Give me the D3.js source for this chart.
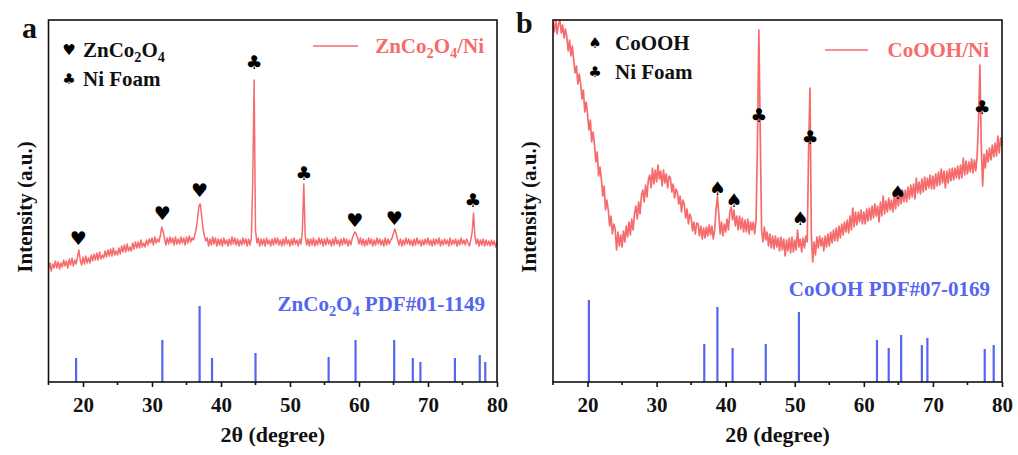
<!DOCTYPE html>
<html>
<head>
<meta charset="utf-8">
<script src="https://cdn.jsdelivr.net/npm/d3@7"></script>
<style>
  html, body { margin: 0; padding: 0; background: #fff; }
  svg { display: block; }
  text { font-family: "Liberation Serif", "Times New Roman", serif; font-weight: bold; }
  .sym { font-family: "DejaVu Sans", sans-serif; font-weight: normal; }
</style>
</head>
<body>
<svg id="chart" width="1018" height="455"></svg>
<script>
// ---- measured patterns, 2θ from 15° to 80° in 0.2° steps ----
const angleStart = 15, angleStep = 0.2;

// ZnCo2O4 on Ni foam
const zcoIntensity = [
  113,119,111,118,114, 121,114,120,113,119, 115,122,116,121,114, 123,117,124,116,122,
  118,125,132,122,117, 125,118,126,119,124, 119,127,121,128,122, 129,122,130,123,127,
  124,131,125,132,126, 133,126,134,127,131, 127,134,128,136,130, 137,130,138,131,135,
  131,139,133,140,134, 140,134,142,135,139, 135,142,137,143,139, 144,137,145,139,143,
  140,146,155,151,144, 137,144,138,145,139, 144,137,145,138,143, 138,145,139,144,137,
  145,139,146,140,144, 142,147,153,163,176, 178,166,153,146,141, 144,136,143,137,145,
  138,144,136,143,137, 143,136,144,138,142, 136,143,137,145,138, 144,137,143,136,142,
  137,144,138,143,136, 143,137,144,200,302, 152,139,144,136,143, 137,143,136,144,138,
  142,136,143,137,144, 138,144,137,142,136, 143,137,145,138,142, 136,143,137,144,138,
  142,136,143,138,152, 198,147,137,143,136, 143,137,144,136,142, 137,144,138,143,136,
  143,137,144,138,142, 136,143,137,145,138, 142,136,143,137,144, 138,143,136,142,137,
  143,147,150,148,144, 138,144,137,143,136, 142,137,144,138,143, 136,142,137,144,138,
  143,137,142,136,144, 137,143,138,142,144, 149,153,148,142,137, 143,136,142,137,144,
  138,143,137,142,136, 143,137,144,138,142, 136,142,137,143,138, 144,137,142,136,143,
  137,143,138,144,136, 142,137,143,138,142, 136,144,137,142,138, 143,136,142,137,144,
  138,142,137,143,139, 136,142,150,169,146, 138,143,136,142,137, 143,136,142,137,141,
  136,142,137,141,135, 140
];

// CoOOH on Ni foam
const coohIntensity = [
  360,350,362,348,358, 362,349,357,344,353, 345,331,342,326,336, 322,309,316,298,308,
  298,283,292,270,280, 268,252,262,240,250, 238,220,230,206,215, 203,186,196,172,182,
  172,156,166,148,158, 153,132,150,136,147, 135,151,140,156,145, 160,147,163,152,168,
  176,163,180,168,186, 192,180,197,185,202, 207,194,214,198,212, 200,217,203,211,196,
  212,199,208,194,206, 204,190,198,184,193, 190,178,186,170,182, 178,164,173,158,168,
  164,151,160,148,159, 158,146,156,143,154, 144,155,146,157,147, 156,143,152,172,186,
  168,148,160,146,158, 150,163,152,170,175, 162,172,156,166,152, 166,153,164,150,162,
  150,163,148,160,152, 160,148,162,240,352, 250,152,140,155,142, 150,136,148,134,146,
  133,146,135,144,131, 145,132,143,126,142, 131,144,129,145,130, 142,132,152,135,143,
  130,144,134,146,140, 230,294,148,120,140, 127,145,134,146,136, 144,131,146,135,148,
  136,150,139,152,141, 154,141,156,144,158, 147,160,150,162,149, 166,152,174,155,170,
  157,170,160,172,158, 170,158,173,161,174, 162,176,164,178,166, 176,160,180,166,186,
  168,181,170,184,172, 182,170,186,173,190, 176,190,178,192,180, 192,180,195,183,197,
  185,198,183,204,189, 200,188,203,190,205, 192,204,194,207,193, 206,193,208,196,210,
  197,213,199,211,194, 211,199,213,201,214, 202,214,204,216,203, 217,204,224,207,221,
  208,220,210,223,209, 222,211,226,262,317, 236,196,228,214,232, 220,234,222,237,225,
  239,226,246,229,244, 236
];

// standard reference lines
const zcoRefAngles    = [19.0, 31.5, 36.9, 38.7, 45.0, 55.6, 59.5, 65.1, 67.8, 68.9, 73.9, 77.5, 78.3];
const zcoRefIntensity = [24, 42, 76, 24, 29, 25, 42, 42, 24, 20, 24, 27, 20];
const coohRefAngles    = [20.2, 36.9, 38.8, 41.0, 45.8, 50.6, 61.9, 63.6, 65.4, 68.4, 69.2, 77.5, 78.8];
const coohRefIntensity = [82, 38, 75, 34, 38, 70, 42, 34, 47, 37, 44, 33, 37];

// phase markers (angle, level above the trace)
const zcoMarkAngles = [19.3, 31.5, 36.9, 59.4, 65.1];
const zcoMarkLevels = [144, 169, 192, 162, 164];
const niMarkAnglesA = [44.8, 52.0, 76.5];
const niMarkLevelsA = [320, 209, 182];
const coohMarkAngles = [38.8, 41.2, 50.8, 64.9];
const coohMarkLevels = [194, 182, 164, 190];
const niMarkAnglesB = [44.8, 52.2, 77.1];
const niMarkLevelsB = [267, 245, 275];

// axis ticks
const majorTicks = [20, 30, 40, 50, 60, 70, 80];
const minorTicks = [15, 25, 35, 45, 55, 65, 75];

const red = "#f66b6b";
const blue = "#5566ee";
const svg = d3.select("#chart");

function richText(g, x, y, parts, size, color, anchor) {
  const t = g.append("text").attr("x", x).attr("y", y)
    .attr("font-size", size).attr("fill", color)
    .attr("text-anchor", anchor || "start");
  let shifted = false;
  parts.forEach(p => {
    const ts = t.append("tspan").text(p.t);
    if (p.sub && !shifted) { ts.attr("dy", 5).attr("font-size", size * 0.68); shifted = true; }
    else if (p.sub) { ts.attr("font-size", size * 0.68); }
    else if (shifted) { ts.attr("dy", -5); shifted = false; }
  });
  return t;
}

function panel(cfg) {
  const x = d3.scaleLinear().domain([15, 80]).range([cfg.left, cfg.right]);
  const y = d3.scaleLinear().domain([0, 362]).range([382, 20]);
  const g = svg.append("g");

  const clipId = "clip-" + cfg.id;
  svg.append("clipPath").attr("id", clipId).append("rect")
    .attr("x", cfg.left).attr("y", 20).attr("width", cfg.right - cfg.left).attr("height", 362);

  // measured trace
  const pts = cfg.intensity.map((v, i) => [angleStart + i * angleStep, v]);
  g.append("path").datum(pts)
    .attr("clip-path", `url(#${clipId})`)
    .attr("fill", "none").attr("stroke", red).attr("stroke-width", cfg.traceWidth)
    .attr("stroke-linejoin", "round")
    .attr("d", d3.line().x(d => x(d[0])).y(d => y(d[1])));

  // reference sticks
  g.selectAll("line.ref").data(cfg.refAngles).enter().append("line")
    .attr("x1", d => x(d)).attr("x2", d => x(d))
    .attr("y1", y(0)).attr("y2", (d, i) => y(cfg.refIntensity[i]))
    .attr("stroke", blue).attr("stroke-width", 2.2);

  // frame
  g.append("rect").attr("x", cfg.left).attr("y", 20)
    .attr("width", cfg.right - cfg.left).attr("height", 362)
    .attr("fill", "none").attr("stroke", "#111").attr("stroke-width", 1.6);

  // bottom axis
  const ax = g.append("g").attr("transform", "translate(0,382)")
    .call(d3.axisBottom(x).tickValues(majorTicks).tickSize(5).tickPadding(10).tickFormat(d3.format("d")));
  ax.select(".domain").remove();
  ax.selectAll(".tick line").attr("stroke", "#111").attr("stroke-width", 1.6);
  ax.selectAll(".tick text").attr("font-size", 21).attr("fill", "#111")
    .attr("font-family", "Liberation Serif, serif").attr("font-weight", "bold");
  g.selectAll("line.minor").data(minorTicks).enter().append("line")
    .attr("x1", d => x(d)).attr("x2", d => x(d)).attr("y1", 382).attr("y2", 385)
    .attr("stroke", "#111").attr("stroke-width", 1.6);

  // axis titles
  g.append("text").attr("x", (cfg.left + cfg.right) / 2).attr("y", 442)
    .attr("text-anchor", "middle").attr("font-size", 22).attr("fill", "#111")
    .text("2θ (degree)");
  g.append("text")
    .attr("transform", `translate(${cfg.left - 17},207) rotate(-90)`)
    .attr("text-anchor", "middle").attr("font-size", 21).attr("fill", "#111")
    .text("Intensity (a.u.)");

  // panel letter
  g.append("text").attr("x", cfg.letterX).attr("y", cfg.letterY)
    .attr("font-size", 30).attr("fill", "#111").text(cfg.letter);

  // peak markers
  const marks = [];
  cfg.phaseAngles.forEach((a, i) => marks.push({ a, v: cfg.phaseLevels[i], s: cfg.phaseSym }));
  cfg.niAngles.forEach((a, i) => marks.push({ a, v: cfg.niLevels[i], s: "♣" }));
  g.selectAll("text.mk").data(marks).enter().append("text")
    .attr("class", "sym").attr("x", d => x(d.a)).attr("y", d => y(d.v))
    .attr("text-anchor", "middle").attr("dominant-baseline", "central")
    .attr("font-size", 19).attr("fill", "#000").text(d => d.s);

  // phase key
  g.append("text").attr("class", "sym").attr("x", cfg.keyX).attr("y", cfg.keyY1)
    .attr("text-anchor", "middle").attr("dominant-baseline", "central")
    .attr("font-size", 15).attr("fill", "#000").text(cfg.phaseSym);
  g.append("text").attr("class", "sym").attr("x", cfg.keyX).attr("y", cfg.keyY2)
    .attr("text-anchor", "middle").attr("dominant-baseline", "central")
    .attr("font-size", 15).attr("fill", "#000").text("♣");
  richText(g, cfg.keyTextX, cfg.keyY1 + 7, cfg.phaseName, 21, "#111");
  richText(g, cfg.keyTextX, cfg.keyY2 + 7, [{ t: "Ni Foam" }], 21, "#111");

  // series key
  g.append("line").attr("x1", cfg.lineX1).attr("x2", cfg.lineX2)
    .attr("y1", cfg.lineY).attr("y2", cfg.lineY).attr("stroke", red).attr("stroke-width", 1.6);
  richText(g, cfg.right - 13, cfg.lineY + 7, cfg.seriesName, 21, red, "end");

  // reference card label
  richText(g, cfg.right - 12, cfg.refLabelY, cfg.refName, 21, blue, "end");
}

panel({
  id: "a", left: 48.5, right: 497, letter: "a", letterX: 22, letterY: 38, traceWidth: 1.5,
  intensity: zcoIntensity, refAngles: zcoRefAngles, refIntensity: zcoRefIntensity,
  phaseAngles: zcoMarkAngles, phaseLevels: zcoMarkLevels, phaseSym: "♥",
  niAngles: niMarkAnglesA, niLevels: niMarkLevelsA,
  keyX: 69, keyTextX: 83, keyY1: 50, keyY2: 79,
  phaseName: [{ t: "ZnCo" }, { t: "2", sub: true }, { t: "O" }, { t: "4", sub: true }],
  lineX1: 313, lineX2: 358, lineY: 46,
  seriesName: [{ t: "ZnCo" }, { t: "2", sub: true }, { t: "O" }, { t: "4", sub: true }, { t: "/Ni" }],
  refLabelY: 311,
  refName: [{ t: "ZnCo" }, { t: "2", sub: true }, { t: "O" }, { t: "4", sub: true }, { t: " PDF#01-1149" }]
});

panel({
  id: "b", left: 553, right: 1002, letter: "b", letterX: 516, letterY: 33, traceWidth: 1.7,
  intensity: coohIntensity, refAngles: coohRefAngles, refIntensity: coohRefIntensity,
  phaseAngles: coohMarkAngles, phaseLevels: coohMarkLevels, phaseSym: "♠",
  niAngles: niMarkAnglesB, niLevels: niMarkLevelsB,
  keyX: 595, keyTextX: 615, keyY1: 43, keyY2: 72,
  phaseName: [{ t: "CoOOH" }],
  lineX1: 825, lineX2: 868, lineY: 50,
  seriesName: [{ t: "CoOOH/Ni" }],
  refLabelY: 296,
  refName: [{ t: "CoOOH PDF#07-0169" }]
});
</script>
</body>
</html>
